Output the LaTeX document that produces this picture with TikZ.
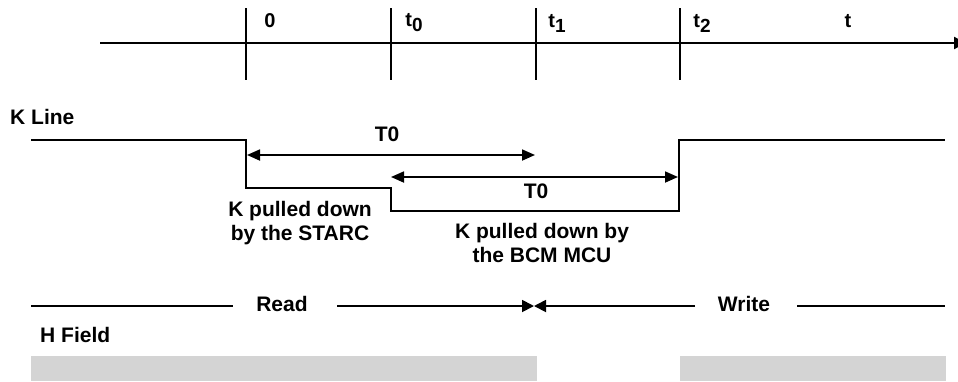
\documentclass[tikz,border=0pt]{standalone}
\usepackage{fontspec}
\setmainfont{Liberation Sans}
\usetikzlibrary{arrows.meta}
\newcommand\tsubs[1]{t\raisebox{-5pt}{\fontsize{19}{19}\selectfont #1}}
\begin{document}
\begin{tikzpicture}[x=1pt,y=-1pt,
  lbl/.style={font=\fontsize{21}{24}\selectfont\bfseries, inner sep=0pt, align=center},
  ticklbl/.style={font=\fontsize{20}{24}\selectfont\bfseries, inner sep=0pt},
  axisline/.style={line width=2.2pt, -{Triangle[length=12pt,width=12pt]}},
  tickline/.style={line width=1.6pt},
  sig/.style={line width=1.8pt},
  dimarrow/.style={line width=1.8pt, {Triangle[length=13pt,width=11pt]}-{Triangle[length=13pt,width=11pt]}},
  rwarrow/.style={line width=1.8pt, -{Triangle[length=12pt,width=12pt]}},
  plainline/.style={line width=1.8pt},
  bar/.style={fill={rgb,255:red,212;green,212;blue,212}, draw=none}]
\useasboundingbox (0,0) rectangle (958,381);
% time axis
\coordinate (ax0) at (100,43);
\coordinate (ax1) at (966,43);
\draw[axisline] (ax0) -- (ax1);
\foreach \x/\n in {246/a,391/b,536/c,680/d}{
  \coordinate (tt\n) at (\x,8);
  \coordinate (tb\n) at (\x,80);
  \draw[tickline] (tt\n) -- (tb\n);
}
\node[ticklbl] (l0) at (270,21) {0};
\node[ticklbl] (lt0) at (414,23) {\tsubs{0}};
\node[ticklbl] (lt1) at (557,23) {\tsubs{1}};
\node[ticklbl] (lt2) at (702,23) {\tsubs{2}};
\node[ticklbl] (lt) at (848,21) {t};
% K line
\node[lbl, anchor=west] (kline) at (10,117) {K Line};
\coordinate (k0) at (31,140);
\coordinate (k1) at (246,140);
\coordinate (k2) at (246,188);
\coordinate (k3) at (391,188);
\coordinate (k4) at (391,211);
\coordinate (k5) at (679,211);
\coordinate (k6) at (679,140);
\coordinate (k7) at (945,140);
\draw[sig] (k0) -- (k1) -- (k2) -- (k3) -- (k4) -- (k5) -- (k6) -- (k7);
% T0 arrows
\coordinate (a1s) at (247,155);
\coordinate (a1e) at (535,155);
\draw[dimarrow] (a1s) -- (a1e);
\node[lbl] (t0a) at (387,134) {T0};
\coordinate (a2s) at (391,177);
\coordinate (a2e) at (678,177);
\draw[dimarrow] (a2s) -- (a2e);
\node[lbl] (t0b) at (536,191) {T0};
% annotations
\node[lbl] (starc) at (300,223) {K pulled down\\by the STARC};
\node[lbl] (bcm) at (542,243) {K pulled down by\\the BCM MCU};
% Read / Write
\coordinate (r0) at (31,306);
\coordinate (r1) at (233,306);
\node[lbl] (read) at (282,304) {Read};
\coordinate (r2) at (337,306);
\coordinate (mid) at (534,306);
\coordinate (w1) at (695,306);
\node[lbl] (write) at (744,304) {Write};
\coordinate (w2) at (797,306);
\coordinate (w3) at (945,306);
\draw[plainline] (r0) -- (r1);
\draw[rwarrow] (r2) -- (mid);
\draw[rwarrow] (w1) -- (mid);
\draw[plainline] (w2) -- (w3);
% H Field
\node[lbl, anchor=west] (hfield) at (40,335) {H Field};
\fill[bar] (31,356) rectangle (537,381);
\fill[bar] (680,356) rectangle (946,381);
\end{tikzpicture}
\end{document}
